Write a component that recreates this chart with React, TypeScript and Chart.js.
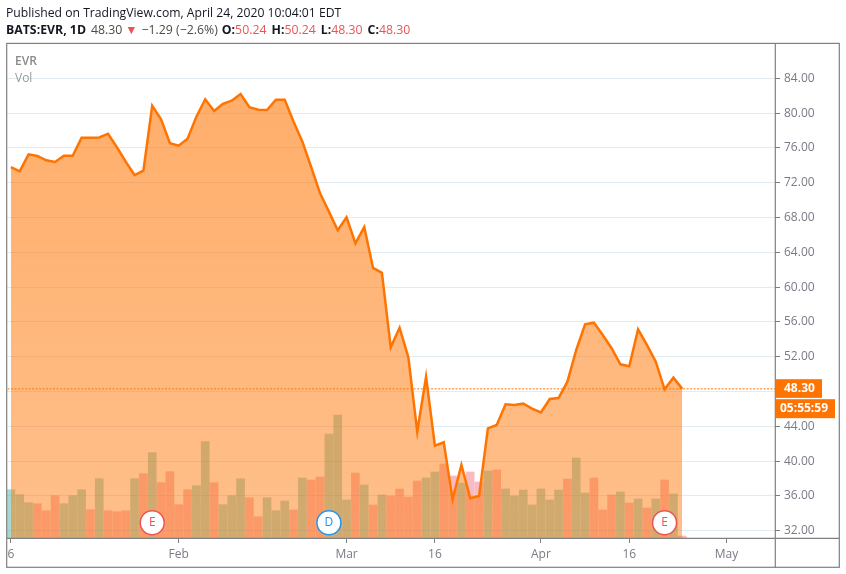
import React, { useEffect, useRef } from "react";
import { Chart, registerables } from "chart.js";

Chart.register(...registerables);

const closes = [
  73.8, 73.3, 75.26, 75.07, 74.57, 74.38, 75.1, 75.1, 77.17, 77.17, 77.2, 77.63, 76.07, 74.42, 72.88, 73.38,
  80.85, 79.29, 76.53, 76.26, 77.06, 79.59, 81.59, 80.24, 81.05, 81.43, 82.2, 80.67, 80.39, 80.36, 81.54, 81.54,
  79.01, 76.71, 73.77, 70.78, 68.67, 66.53, 68.02, 65.03, 66.9, 62.2, 61.64, 53.08, 55.33, 51.9, 43.38, 49.7,
  41.77, 42.16, 35.6, 39.55, 35.72, 35.98, 43.77, 44.15, 46.53, 46.45, 46.6, 46.03, 45.6, 47.14, 47.25, 49.13,
  52.77, 55.72, 55.91, 54.49, 52.97, 51.12, 50.9, 55.15, 53.35, 51.43, 48.25, 49.59, 48.3,
];
const volumes = [
  0.483, 0.433, 0.353, 0.343, 0.273, 0.423, 0.343, 0.423, 0.483, 0.283, 0.593, 0.273, 0.263, 0.273, 0.593, 0.643,
  0.853, 0.553, 0.663, 0.333, 0.483, 0.523, 0.963, 0.553, 0.333, 0.423, 0.593, 0.403, 0.213, 0.403, 0.273, 0.37,
  0.28, 0.6, 0.58, 0.61, 1.04, 1.23, 0.38, 0.65, 0.53, 0.33, 0.43, 0.42, 0.49, 0.41, 0.57, 0.6,
  0.66, 0.74, 0.62, 0.55, 0.66, 0.56, 0.67, 0.68, 0.49, 0.42, 0.48, 0.33, 0.49, 0.38, 0.48, 0.59,
  0.8, 0.45, 0.6, 0.28, 0.43, 0.46, 0.35, 0.39, 0.3, 0.39, 0.58, 0.44, 0.02,
];
const volumeUp = [
  1, 1, 1, 0, 0, 0, 1, 1, 1, 0, 1, 0, 0, 0, 1, 0,
  1, 0, 0, 0, 0, 1, 1, 0, 1, 1, 1, 0, 0, 1, 1, 1,
  0, 1, 0, 0, 1, 1, 1, 0, 1, 0, 1, 0, 0, 0, 0, 1,
  1, 0, 0, 1, 0, 0, 1, 0, 1, 1, 1, 1, 1, 1, 1, 0,
  1, 1, 0, 0, 0, 1, 0, 1, 0, 1, 0, 1, 0,
];
const priceTicks = [32, 36, 40, 44, 48, 52, 56, 60, 64, 68, 72, 76, 80, 84];
const timeTickIndexes = [0, 19, 38, 48, 60, 70, 81];
const timeTickLabels = ["6", "Feb", "Mar", "16", "Apr", "16", "May"];
const eventIndexes = [16, 36, 74];
const eventLetters = ["E", "D", "E"];
const lastPrice = 48.3;
const countdown = "05:55:59";

const ORANGE = "#ff7400";
const RED = "#ef5350";
const BLUE = "#2196f3";
const AXIS = "#808080";
const TEXT = "#787b86";
const FONT = '"Open Sans", sans-serif';

const overlay: any = {
  id: "overlay",
  afterDraw(chart: any) {
    const { ctx, chartArea: a, scales } = chart;
    ctx.save();
    ctx.strokeStyle = AXIS;
    ctx.lineWidth = 1.2;
    ctx.strokeRect(6.7, 43.4, 832.6, 523.9);
    ctx.beginPath();
    ctx.moveTo(a.right + 0.3, 43.4);
    ctx.lineTo(a.right + 0.3, 567.3);
    ctx.moveTo(6.7, a.bottom + 0.3);
    ctx.lineTo(839.3, a.bottom + 0.3);
    ctx.stroke();
    const meta = chart.getDatasetMeta(2);
    ctx.font = `12px ${FONT}`;
    ctx.textAlign = "center";
    ctx.textBaseline = "middle";
    meta.data.forEach((pt: any, i: number) => {
      ctx.fillStyle = eventLetters[i] === "D" ? BLUE : RED;
      ctx.fillText(eventLetters[i], pt.x, pt.y);
    });
    const y = scales.y.getPixelForValue(lastPrice);
    ctx.fillStyle = ORANGE;
    ctx.fillRect(a.right + 0.5, y - 9.7, 46.5, 18.7);
    ctx.fillRect(a.right + 1, y + 10.3, 59, 19);
    ctx.fillStyle = "#fff";
    ctx.font = `bold 12px ${FONT}`;
    ctx.textAlign = "left";
    ctx.fillText(lastPrice.toFixed(2), a.right + 9, y);
    ctx.fillText(countdown, a.right + 5, y + 20);
    ctx.restore();
  },
};

export default function App() {
  const ref = useRef<HTMLCanvasElement>(null);
  useEffect(() => {
    const canvas = ref.current!;
    const ctx = canvas.getContext("2d")!;
    const area = ctx.createLinearGradient(0, 94, 0, 538);
    area.addColorStop(0, "rgba(255,116,0,0.58)");
    area.addColorStop(1, "rgba(255,116,0,0.46)");
    const chart = new Chart(canvas, {
      type: "bar",
      plugins: [overlay],
      data: {
        datasets: [
          {
            type: "bar",
            yAxisID: "v",
            order: 3,
            data: volumes.map((v, i) => ({ x: i, y: v })),
            backgroundColor: volumeUp.map((u) => (u ? "rgba(60,170,150,0.45)" : "rgba(235,77,92,0.38)")),
            barThickness: 8,
            borderWidth: 0,
          },
          {
            type: "line",
            yAxisID: "y",
            order: 2,
            data: closes.map((v, i) => ({ x: i, y: v })),
            borderColor: ORANGE,
            borderWidth: 2.5,
            backgroundColor: area,
            fill: "start",
            tension: 0,
            pointRadius: 0,
            borderJoinStyle: "miter",
          },
          {
            type: "scatter",
            yAxisID: "v",
            order: 0,
            data: eventIndexes.map((i) => ({ x: i, y: 0.153 })),
            pointRadius: 12,
            pointBackgroundColor: "#fff",
            pointBorderColor: eventLetters.map((l) => (l === "D" ? BLUE : RED)),
            pointBorderWidth: 1.5,
          },
          {
            type: "line",
            yAxisID: "y",
            order: 1,
            data: [
              { x: -0.373, y: lastPrice },
              { x: 86.5, y: lastPrice },
            ],
            borderColor: ORANGE,
            borderWidth: 1,
            borderDash: [2, 1.5],
            pointRadius: 0,
            fill: false,
          },
        ],
      } as any,
      options: {
        responsive: false,
        animation: false,
        maintainAspectRatio: false,
        layout: { autoPadding: false, padding: { left: 7, top: 44, right: 6, bottom: 7 } },
        plugins: { legend: { display: false }, tooltip: { enabled: false }, title: { display: false } },
        scales: {
          x: {
            type: "linear",
            offset: false,
            min: -0.44,
            max: 86.5,
            afterFit(s: any) {
              s.height = 29;
              s.paddingLeft = 0;
              s.paddingRight = 0;
            },
            afterBuildTicks(s: any) {
              s.ticks = timeTickIndexes.map((value) => ({ value }));
            },
            grid: { offset: false, color: "transparent", tickColor: AXIS, tickLength: 5, drawOnChartArea: false },
            border: { display: false },
            ticks: {
              color: TEXT,
              font: { family: "Open Sans", size: 12 },
              padding: 4,
              maxRotation: 0,
              autoSkip: false,
              callback: (v: any) => timeTickLabels[timeTickIndexes.indexOf(v)] ?? "",
            },
          },
          y: {
            type: "linear",
            position: "right",
            min: 31.16,
            max: 87.94,
            afterFit(s: any) {
              s.width = 65;
              s.paddingTop = 0;
              s.paddingBottom = 0;
            },
            afterBuildTicks(s: any) {
              s.ticks = priceTicks.map((value) => ({ value }));
            },
            grid: { color: "#e1ecf2", tickColor: AXIS, tickLength: 5, lineWidth: 1 },
            border: { display: false },
            ticks: {
              color: TEXT,
              font: { family: "Open Sans", size: 12 },
              padding: 4,
              callback: (v: any) => Number(v).toFixed(2),
            },
          },
          v: { type: "linear", display: false, min: 0, max: 4.94 },
        },
      } as any,
    });
    return () => chart.destroy();
  }, []);

  const dark = "#131722";
  return (
    <div style={{ position: "fixed", left: 0, top: 0, width: 846, height: 574, background: "#fff", fontFamily: FONT }}>
      <canvas ref={ref} width={846} height={574} style={{ display: "block", width: 846, height: 574 }} />
      <div style={{ position: "absolute", left: 6, top: 4, fontSize: 12.2, color: dark, whiteSpace: "nowrap" }}>
        Published on TradingView.com, April 24, 2020 10:04:01 EDT
      </div>
      <div style={{ position: "absolute", left: 6, top: 21, fontSize: 12.3, color: "#4a4a4a", whiteSpace: "nowrap" }}>
        <b style={{ color: dark }}>BATS:EVR, 1D</b>
        <span style={{ marginLeft: 5 }}>48.30</span>
        <span style={{ color: RED, marginLeft: 3 }}>▼</span>
        <span style={{ marginLeft: 4 }}>−1.29 (−2.6%)</span>
        <b style={{ color: dark, marginLeft: 4 }}>O:</b>
        <span style={{ color: RED }}>50.24</span>
        <b style={{ color: dark, marginLeft: 5 }}>H:</b>
        <span style={{ color: RED }}>50.24</span>
        <b style={{ color: dark, marginLeft: 5 }}>L:</b>
        <span style={{ color: RED }}>48.30</span>
        <b style={{ color: dark, marginLeft: 5 }}>C:</b>
        <span style={{ color: RED }}>48.30</span>
      </div>
      <div style={{ position: "absolute", left: 15, top: 52, fontSize: 12, fontWeight: 600, color: "#8a8a8a" }}>EVR</div>
      <div style={{ position: "absolute", left: 15, top: 69, fontSize: 12, color: "#9a9a9a" }}>Vol</div>
    </div>
  );
}
